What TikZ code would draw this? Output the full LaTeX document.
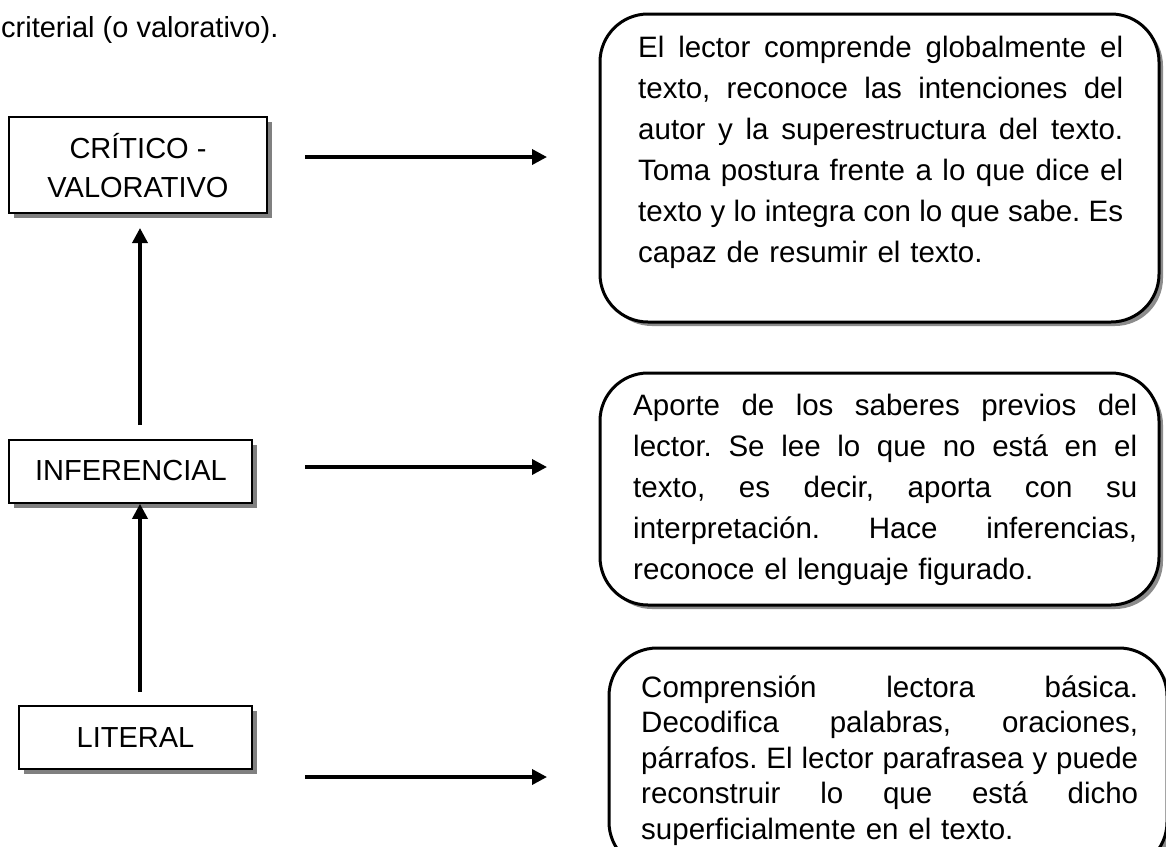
\documentclass[tikz,border=0pt]{standalone}
\usepackage{fontspec}
\setmainfont{Liberation Sans}
\usetikzlibrary{arrows.meta,shadows}
\newcommand\jline[2]{\makebox[#1][s]{\spaceskip=0pt\xspaceskip=0pt\relax #2}}
\begin{document}
\begin{tikzpicture}[x=1pt,y=1pt,
  lbox/.style={draw=black, line width=1.6pt, fill=white, inner sep=0pt,
    drop shadow={shadow xshift=5pt, shadow yshift=-5pt, fill=black!50, opacity=1}},
  ltxt/.style={anchor=base, inner sep=0pt, font=\fontsize{29}{35}\selectfont},
  rbox/.style={draw=black, line width=3pt, fill=white, rounded corners=48pt, inner sep=0pt,
    drop shadow={shadow xshift=4pt, shadow yshift=-4pt, fill=black!45, opacity=1}},
  rtxt/.style={anchor=base west, inner sep=0pt},
  arr/.style={line width=3.5pt, -{Triangle[width=15pt,length=15pt]}}
]
\clip (0,0) rectangle (1166,-846);
\fill[white] (0,0) rectangle (1166,-846);

% title line
\node[anchor=base west, inner sep=0pt, font=\fontsize{29}{35}\selectfont] (title) at (1,-37) {criterial (o valorativo).};

% left boxes
\node[lbox, minimum width=258pt, minimum height=96pt] (crit) at (138,-165) {};
\node[ltxt] (critA) at (138,-158) {CRÍTICO -};
\node[ltxt] (critB) at (138,-197) {VALORATIVO};

\node[lbox, minimum width=243pt, minimum height=63pt] (inf) at (130.5,-471.5) {};
\node[ltxt] (infA) at (131,-480) {INFERENCIAL};

\node[lbox, minimum width=233pt, minimum height=63pt] (lit) at (135.5,-737.5) {};
\node[ltxt] (litA) at (135.5,-747) {LITERAL};

% vertical arrows
\coordinate (v1s) at (140,-425);
\coordinate (v1e) at (140,-228);
\coordinate (v2s) at (140,-692);
\draw[arr] (v1s) -- (v1e);
\draw[arr] (v2s) -- (inf.south -| v2s);

% right boxes
\node[rbox, minimum width=559pt, minimum height=308pt] (r1) at (879.5,-168) {};
\node[rbox, minimum width=559pt, minimum height=232pt] (r2) at (879.5,-489) {};
\node[rbox, minimum width=558pt, minimum height=222pt] (r3) at (888,-759) {};

% horizontal arrows
\coordinate (h1s) at (305,-157);
\coordinate (h1e) at (547,-157);
\coordinate (h2s) at (305,-467);
\coordinate (h2e) at (547,-467);
\coordinate (h3s) at (305,-777);
\coordinate (h3e) at (547,-777);
\draw[arr] (h1s) -- (h1e);
\draw[arr] (h2s) -- (h2e);
\draw[arr] (h3s) -- (h3e);

% right texts
\node[rtxt, text width=485pt, font=\fontsize{29.5}{41}\selectfont\frenchspacing] (t1) at (638,-57) {%
\jline{485pt}{El lector comprende globalmente el}\\
\jline{485pt}{texto, reconoce las intenciones del}\\
\jline{485pt}{autor y la superestructura del texto.}\\
\jline{485pt}{Toma postura frente a lo que dice el}\\
\jline{485pt}{texto y lo integra con lo que sabe. Es}\\
capaz de resumir el texto.};

\node[rtxt, text width=504pt, font=\fontsize{29.5}{41}\selectfont\frenchspacing] (t2) at (633,-415) {%
\jline{504pt}{Aporte de los saberes previos del}\\
\jline{504pt}{lector. Se lee lo que no está en el}\\
\jline{504pt}{texto, es decir, aporta con su}\\
\jline{504pt}{interpretación. Hace inferencias,}\\
reconoce el lenguaje figurado.};

\node[rtxt, text width=497pt, font=\fontsize{29.5}{35.5}\selectfont\frenchspacing] (t3) at (641,-697) {%
\jline{497pt}{Comprensión lectora básica.}\\
\jline{497pt}{Decodifica palabras, oraciones,}\\
\jline{497pt}{párrafos. El lector parafrasea y puede}\\
\jline{497pt}{reconstruir lo que está dicho}\\
superficialmente en el texto.};
\end{tikzpicture}
\end{document}
